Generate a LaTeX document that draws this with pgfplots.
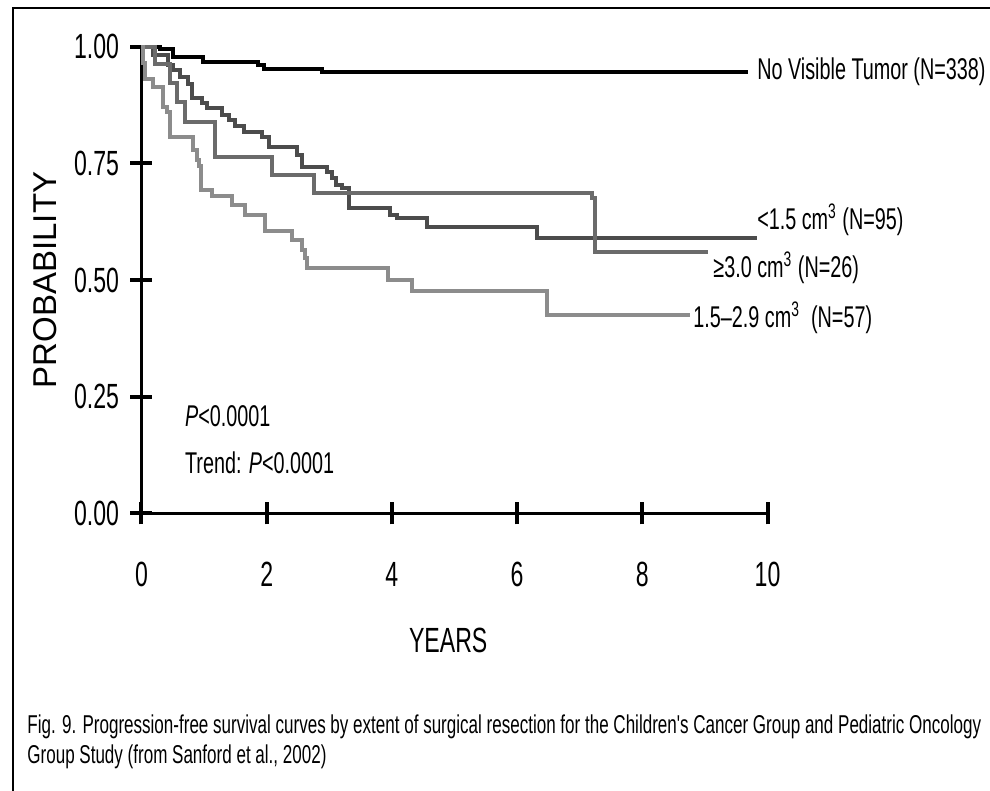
\documentclass[border=0pt]{standalone}
\usepackage{pgfplots}
\pgfplotsset{compat=1.18}
\usepackage{fontspec}
\setmainfont{Liberation Sans}
\newfontfamily\condfont{Liberation Sans}[FakeStretch=0.66]

\definecolor{kmdark}{gray}{0.30}
\definecolor{kmmed}{gray}{0.42}
\definecolor{kmlight}{gray}{0.55}

\begin{document}
\begin{tikzpicture}
\begin{axis}[
  at={(70.75pt,138.85pt)}, anchor=south west,
  scale only axis, width=313pt, height=233.3pt,
  xmin=0, xmax=10, ymin=0, ymax=1,
  axis lines=left,
  axis line style={line width=1.5pt, -},
  xtick={0,2,4,6,8,10},
  xticklabels={0,2,4,6,8,10},
  ytick={0,0.25,0.5,0.75,1},
  yticklabels={0.00,0.25,0.50,0.75,1.00},
  tick align=center, major tick length=11pt,
  tick style={line width=2pt, black},
  xticklabel style={font=\condfont\fontsize{17.5}{19}\selectfont, anchor=center, inner sep=0pt, yshift=-25pt},
  yticklabel style={font=\condfont\fontsize{17.5}{19}\selectfont, anchor=east, inner sep=0pt, xshift=-5.5pt},
  xlabel={YEARS},
  xlabel style={font=\condfont\fontsize{17.5}{19}\selectfont, at={(axis description cs:0.49,0)}, anchor=center, yshift=-63.5pt},
  ylabel={PROBABILITY},
  ylabel style={font=\fontsize{16.5}{18}\selectfont, at={(axis description cs:0,0.5)}, anchor=center, yshift=48pt},
  clip=false,
  every axis plot/.append style={const plot, line width=2pt, line join=miter, line cap=butt},
]
% No visible tumour
\addplot[black] coordinates {
  (0,1) (0.30,0.994) (0.50,0.977) (0.99,0.968) (1.86,0.960) (1.96,0.952)
  (2.88,0.945) (9.69,0.945)
};
% < 1.5 cm^3
\addplot[kmdark] coordinates {
  (0,1) (0.19,0.982) (0.43,0.961) (0.51,0.950) (0.62,0.936) (0.75,0.921)
  (0.80,0.889) (0.96,0.879) (1.04,0.868) (1.28,0.854) (1.39,0.843)
  (1.49,0.829) (1.63,0.818) (1.92,0.807) (2.03,0.786) (2.48,0.768)
  (2.56,0.743) (2.96,0.732) (3.04,0.718) (3.10,0.704) (3.20,0.697)
  (3.31,0.654) (3.97,0.639) (4.08,0.632) (4.56,0.614) (6.31,0.589)
  (9.83,0.589)
};
% >= 3.0 cm^3
\addplot[kmmed] coordinates {
  (0,1) (0.22,0.962) (0.45,0.922) (0.56,0.882) (0.69,0.839) (1.17,0.764)
  (2.08,0.725) (2.75,0.686) (7.19,0.675) (7.24,0.561) (9.05,0.561)
};
% 1.5 - 2.9 cm^3
\addplot[kmlight] coordinates {
  (0,1) (0.02,0.965) (0.06,0.930) (0.19,0.913) (0.35,0.871) (0.40,0.860)
  (0.45,0.807) (0.82,0.779) (0.88,0.757) (0.92,0.745) (0.95,0.693)
  (1.13,0.679) (1.45,0.661) (1.66,0.639) (1.98,0.604) (2.40,0.586)
  (2.56,0.564) (2.61,0.547) (2.64,0.525) (3.94,0.500) (4.32,0.477)
  (6.47,0.425) (8.76,0.425)
};

\begin{scope}[every node/.style={anchor=west, inner sep=0pt, font=\condfont\fontsize{15}{17}\selectfont}]
\node at (axis cs:9.83,0.946) {No Visible Tumor (N=338)};
\node at (axis cs:9.83,0.629) {<1.5 cm\textsuperscript{3} (N=95)};
\node at (axis cs:9.13,0.526) {≥3.0 cm\textsuperscript{3} (N=26)};
\node at (axis cs:8.81,0.419) {1.5–2.9 cm\textsuperscript{3}\ \ (N=57)};
\node at (axis cs:0.69,0.209) {\textit{P}<0.0001};
\node at (axis cs:0.69,0.108) {Trend: \textit{P}<0.0001};
\end{scope}
\end{axis}

% frame and caption
\draw[line width=1.2pt] (6.5pt,0pt) -- (6.5pt,391.5pt) -- (500pt,391.5pt);
\begin{scope}[every node/.style={anchor=base west, inner sep=0pt, font=\condfont\fontsize{12.9}{15}\selectfont}]
\node at (13.5pt,28.5pt)
  {Fig. 9. Progression-free survival curves by extent of surgical resection for the Children's Cancer Group and Pediatric Oncology};
\node at (13.5pt,13.5pt)
  {Group Study (from Sanford et al., 2002)};
\end{scope}

\pgfresetboundingbox
\path[use as bounding box] (0,0) rectangle (495pt,395.5pt);
\end{tikzpicture}
\end{document}
